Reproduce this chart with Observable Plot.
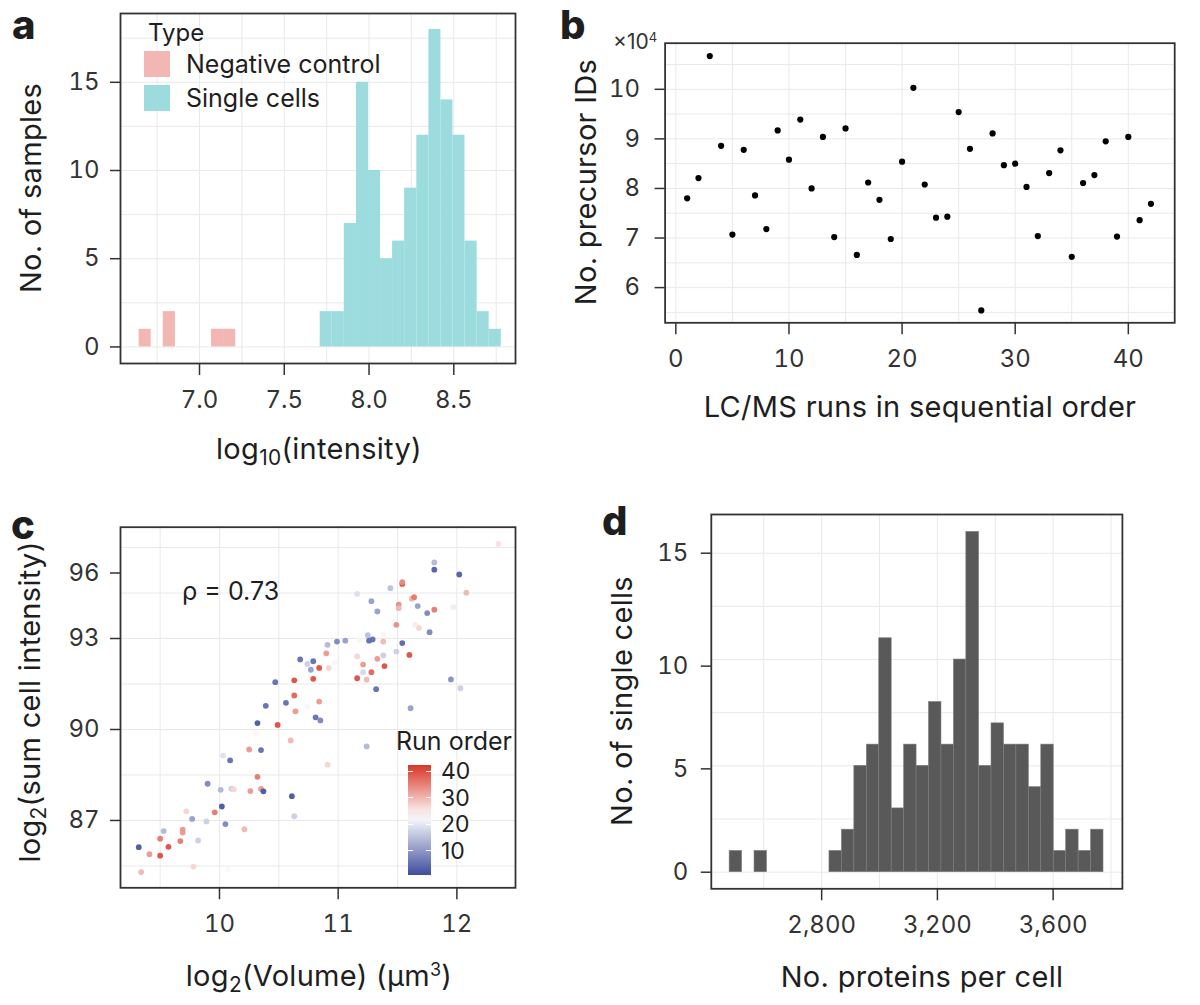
<!DOCTYPE html>
<html><head><meta charset="utf-8">
<script src="https://cdn.jsdelivr.net/npm/d3@7"></script>
<script src="https://cdn.jsdelivr.net/npm/@observablehq/plot@0.6"></script>
<style>
body{margin:0;background:#fff;font-family:Inter,"Noto Sans",sans-serif;color:#1e1e1e}
#fig{position:relative;width:1200px;height:1005px;overflow:hidden;background:#fff}
.abs{position:absolute;white-space:nowrap;line-height:1.15}
.letter{font-size:40px;font-weight:800;font-family:Inter,"Noto Sans",sans-serif;line-height:1}
.ttl{font-size:29px;letter-spacing:0.3px}
.ctr{transform:translate(-50%,-50%)}
.rot{transform:translate(-50%,-50%) rotate(-90deg)}
sub{font-size:0.72em;vertical-align:-0.28em;line-height:0}
sup{font-size:0.62em;vertical-align:0.55em;line-height:0}
</style></head><body><div id="fig"></div>
<script>
// ---------- Panel a: histogram of log10(intensity) ----------
const aTypes = ["Negative control", "Single cells"];
const aColors = ["#F2B6B3", "#9CDCDF"];
const aEdges = [6.644, 6.715, 6.786, 6.858, 6.929, 7.000, 7.071, 7.142, 7.214, 7.285,
  7.356, 7.427, 7.498, 7.570, 7.641, 7.712, 7.783, 7.854, 7.926, 7.997,
  8.068, 8.139, 8.210, 8.282, 8.353, 8.424, 8.495, 8.566, 8.638, 8.709, 8.780];
const aNegCounts = [1,0,2,0,0,0,1,1,0,0,0,0,0,0,0,0,0,0,0,0,0,0,0,0,0,0,0,0,0,0];
const aSingleCounts = [0,0,0,0,0,0,0,0,0,0,0,0,0,0,0,2,2,7,15,10,5,6,9,12,18,14,12,6,2,1];
const aXTicks = [7.0, 7.5, 8.0, 8.5];
const aYTicks = [0, 5, 10, 15];
const aXGrid = [6.75, 7.0, 7.25, 7.5, 7.75, 8.0, 8.25, 8.5, 8.75];
const aYGrid = [0, 2.5, 5, 7.5, 10, 12.5, 15, 17.5];

// ---------- Panel b: precursor IDs per run ----------
const bRun = [1,2,3,4,5,6,7,8,9,10,11,12,13,14,15,16,17,18,19,20,21,22,23,24,25,26,27,28,29,30,31,32,33,34,35,36,37,38,39,40,41,42];
const bPrecursor = [7.80, 8.21, 10.67, 8.86, 7.07, 8.78, 7.86, 7.18, 9.17, 8.58, 9.39, 8.00, 9.04, 7.02, 9.21, 6.66, 8.12, 7.77, 6.98, 8.54,
  10.03, 8.08, 7.41, 7.43, 9.54, 8.80, 5.54, 9.11, 8.47, 8.50, 8.03, 7.04, 8.31, 8.77, 6.62, 8.11, 8.27, 8.95, 7.03, 9.04, 7.36, 7.69]; // ×10^4
const bXTicks = [0, 10, 20, 30, 40];
const bYTicks = [6, 7, 8, 9, 10];
const bXGrid = [0, 5, 10, 15, 20, 25, 30, 35, 40];
const bYGrid = [5.5, 6, 6.5, 7, 7.5, 8, 8.5, 9, 9.5, 10, 10.5];

// ---------- Panel c: volume vs sum intensity ----------
const cVolume = [9.32, 9.34, 9.41, 9.50, 9.50, 9.53, 9.57, 9.67, 9.69, 9.69, 9.72, 9.77, 9.78, 9.82, 9.89, 9.90, 9.96, 10.01, 10.02, 10.03,
  10.05, 10.07, 10.09, 10.10, 10.12, 10.21, 10.25, 10.26, 10.32, 10.31, 10.32, 10.35, 10.35, 10.37, 10.39, 10.47, 10.49, 10.56, 10.60, 10.61,
  10.63, 10.63, 10.63, 10.64, 10.68, 10.74, 10.74, 10.77, 10.79, 10.79, 10.81, 10.84, 10.84, 10.85, 10.90, 10.91, 10.92, 10.91, 10.91, 10.97,
  10.99, 11.06, 11.16, 11.16, 11.16, 11.18, 11.21, 11.21, 11.24, 11.24, 11.25, 11.26, 11.28, 11.28, 11.29, 11.32, 11.33, 11.33, 11.38, 11.38,
  11.38, 11.39, 11.44, 11.49, 11.49, 11.51, 11.51, 11.60, 11.54, 11.54, 11.54, 11.60, 11.61, 11.62, 11.64, 11.65, 11.68, 11.67, 11.75, 11.77,
  11.81, 11.81, 11.81, 11.95, 11.97, 12.02, 12.03, 12.08, 12.35];
const cIntensity = [86.12, 85.30, 85.89, 85.84, 86.40, 86.65, 86.13, 86.32, 86.70, 86.60, 87.30, 87.05, 85.48, 86.34, 86.97, 88.21, 87.27, 88.01, 87.46, 89.14,
  86.88, 85.38, 88.98, 88.05, 88.03, 86.71, 89.34, 87.97, 88.44, 89.88, 90.21, 89.32, 88.04, 87.96, 90.78, 91.56, 90.15, 90.88, 89.64, 87.80,
  87.14, 91.62, 91.12, 90.60, 92.31, 92.16, 90.76, 91.97, 92.25, 91.67, 90.40, 90.92, 92.03, 90.30, 92.51, 92.79, 92.03, 88.84, 90.65, 92.22,
  92.90, 92.93, 94.47, 91.69, 92.41, 92.96, 91.89, 92.14, 89.44, 91.64, 93.11, 92.93, 94.23, 91.89, 92.97, 91.33, 92.33, 93.89, 92.44, 92.90,
  93.13, 92.09, 94.66, 92.57, 93.45, 94.12, 94.00, 94.97, 94.80, 94.86, 92.85, 92.46, 90.70, 94.31, 94.36, 93.45, 93.35, 94.07, 93.84, 93.21,
  95.51, 95.27, 93.95, 91.65, 94.03, 95.11, 91.36, 94.51, 96.12];
const cRunOrder = [2, 30, 33, 40, 36, 14, 40, 36, 33, 33, 27, 11, 27, 17, 17, 8, 36, 14, 2, 19,
  8, 24, 5, 17, 27, 30, 33, 33, 36, 24, 2, 5, 33, 2, 5, 5, 40, 5, 30, 2,
  17, 40, 38, 33, 5, 17, 22, 11, 5, 40, 5, 33, 40, 8, 33, 14, 27, 27, 23, 22,
  8, 11, 19, 40, 27, 22, 18, 33, 14, 30, 15, 5, 11, 38, 5, 5, 33, 11, 17, 30,
  22, 40, 15, 17, 34, 34, 30, 23, 40, 34, 4, 40, 11, 30, 36, 25, 27, 11, 8, 8,
  14, 3, 36, 9, 21, 3, 17, 30, 26];
const cXTicks = [10, 11, 12];
const cYTicks = [87, 90, 93, 95.16];
const cYTickLabels = ["87", "90", "93", "96"];
const cXGrid = [9.5, 10, 10.5, 11, 11.5, 12];
const cYGrid = [85.5, 87, 88.5, 90, 91.5, 93, 94.5, 96];
const cColorDomain = [1, 23, 42];
const cColorRange = ["#3F4E9E", "#FFFFFF", "#D9392A"];
const cLegendTicks = [10, 20, 30, 40];
const cRho = "ρ = 0.73";

// ---------- Panel d: proteins per cell ----------
const dEdges = [2482, 2525, 2568, 2611, 2654, 2698, 2741, 2784, 2827, 2870, 2913, 2956, 2999, 3042, 3085, 3128,
  3171, 3214, 3257, 3300, 3344, 3387, 3430, 3473, 3516, 3559, 3602, 3645, 3688, 3731, 3774];
const dCounts = [1,0,1,0,0,0,0,0,1,2,5,6,11,3,6,5,8,6,10,16,5,7,6,6,4,6,1,2,1,2];
const dXTicks = [2800, 3200, 3600];
const dYTicks = [0, 4.86, 9.69, 15];
const dYTickLabels = ["0", "5", "10", "15"];
const dXGrid = [2600, 2800, 3000, 3200, 3400, 3600, 3800];
const dYGrid = [0, 2.5, 5, 7.5, 10, 12.5, 15];

// ---------- helpers ----------
const fig = document.getElementById("fig");
const FONT = "Inter, 'Noto Sans', sans-serif";
const GRID = "#e9e9e9";
const AX = "#333333";
function place(el, left, top) {
  el.style.position = "absolute"; el.style.left = left + "px"; el.style.top = top + "px";
  fig.appendChild(el);
}
function text(html, x, y, cls, extra) {
  const d = document.createElement("div");
  d.className = "abs " + (cls || "");
  d.innerHTML = html;
  d.style.left = x + "px"; d.style.top = y + "px";
  if (extra) Object.assign(d.style, extra);
  fig.appendChild(d);
  return d;
}
const common = {style: {fontFamily: FONT, fontSize: "24px", color: AX, background: "transparent", overflow: "visible"}};
const frame = () => Plot.frame({stroke: AX, strokeWidth: 1.8});
const axisOpts = {label: null, color: AX, strokeWidth: 1.5, fontSize: 24};

// ---------- Panel a ----------
const aRows = [];
aEdges.slice(0, -1).forEach((e, k) => {
  if (aNegCounts[k] > 0) aRows.push({x1: e, x2: aEdges[k + 1], n: aNegCounts[k], type: aTypes[0]});
  if (aSingleCounts[k] > 0) aRows.push({x1: e, x2: aEdges[k + 1], n: aSingleCounts[k], type: aTypes[1]});
});
const pa = Plot.plot({
  ...common, width: 540, height: 420,
  marginLeft: 120, marginRight: 25, marginTop: 13, marginBottom: 57,
  x: {domain: [6.534, 8.864]},
  y: {domain: [-0.94, 18.9]},
  color: {domain: aTypes, range: aColors},
  marks: [
    Plot.gridX(aXGrid, {stroke: GRID, strokeOpacity: 1, strokeWidth: 1}),
    Plot.gridY(aYGrid, {stroke: GRID, strokeOpacity: 1, strokeWidth: 1}),
    Plot.rectY(aRows, {x1: "x1", x2: "x2", y: "n", fill: "type", inset: 0}),
    Plot.axisX(aXTicks, {...axisOpts, tickSize: 12, tickPadding: 15, tickFormat: d => d.toFixed(1)}),
    Plot.axisY(aYTicks, {...axisOpts, tickSize: 10, tickPadding: 11, tickFormat: d => String(d)}),
    frame()
  ]
});
place(pa, 0, 0);

// ---------- Panel b ----------
const bRows = bRun.map((r, i) => ({run: r, ids: bPrecursor[i]}));
const pb = Plot.plot({
  ...common, width: 600, height: 420,
  marginLeft: 64.6, marginRight: 25.8, marginTop: 42.7, marginBottom: 97.7,
  x: {domain: [-0.95, 44.1]},
  y: {domain: [5.29, 10.93]},
  marks: [
    Plot.gridX(bXGrid, {stroke: GRID, strokeOpacity: 1, strokeWidth: 1}),
    Plot.gridY(bYGrid, {stroke: GRID, strokeOpacity: 1, strokeWidth: 1}),
    Plot.dot(bRows, {x: "run", y: "ids", r: 3.1, fill: "#000", stroke: "none"}),
    Plot.axisX(bXTicks, {...axisOpts, tickSize: 12, tickPadding: 15, tickFormat: d => String(d)}),
    Plot.axisY(bYTicks, {...axisOpts, tickSize: 10, tickPadding: 15, tickFormat: d => String(d)}),
    frame()
  ]
});
place(pb, 600, 0);

// ---------- Panel c ----------
const cRows = cVolume.map((v, i) => ({vol: v, int: cIntensity[i], run: cRunOrder[i]}));
const cLabelMap = new Map(cYTicks.map((t, i) => [t, cYTickLabels[i]]));
const pc = Plot.plot({
  ...common, width: 540, height: 505,
  marginLeft: 120, marginRight: 25, marginTop: 26.7, marginBottom: 117.7,
  x: {domain: [9.166, 12.494]},
  y: {domain: [84.78, 96.67]},
  color: {type: "linear", domain: cColorDomain, range: cColorRange},
  marks: [
    Plot.gridX(cXGrid, {stroke: GRID, strokeOpacity: 1, strokeWidth: 1}),
    Plot.gridY(cYGrid, {stroke: GRID, strokeOpacity: 1, strokeWidth: 1}),
    Plot.dot(cRows, {x: "vol", y: "int", r: 2.9, fill: "run", stroke: "none", fillOpacity: 0.95}),
    Plot.axisX(cXTicks, {...axisOpts, tickSize: 12, tickPadding: 15, tickFormat: d => String(d)}),
    Plot.axisY(cYTicks, {...axisOpts, tickSize: 10, tickPadding: 11, tickFormat: d => cLabelMap.get(d)}),
    frame()
  ]
});
place(pc, 0, 500);

// ---------- Panel d ----------
const dRows = dCounts.map((n, k) => ({x1: dEdges[k], x2: dEdges[k + 1], n}));
const dLabelMap = new Map(dYTicks.map((t, i) => [t, dYTickLabels[i]]));
const pd = Plot.plot({
  ...common, width: 600, height: 505,
  marginLeft: 110.8, marginRight: 78.1, marginTop: 14, marginBottom: 116.7,
  x: {domain: [2418.6, 3839.3]},
  y: {domain: [-0.78, 16.82]},
  marks: [
    Plot.gridX(dXGrid, {stroke: GRID, strokeOpacity: 1, strokeWidth: 1}),
    Plot.gridY(dYGrid, {stroke: GRID, strokeOpacity: 1, strokeWidth: 1}),
    Plot.rectY(dRows, {x1: "x1", x2: "x2", y: "n", fill: "#595959", stroke: "#7d7d7d", strokeWidth: 0.6, inset: 0}),
    Plot.axisX(dXTicks, {...axisOpts, tickSize: 12, tickPadding: 15, tickFormat: d3.format(",")}),
    Plot.axisY(dYTicks, {...axisOpts, tickSize: 10, tickPadding: 13, tickFormat: d => dLabelMap.get(d)}),
    frame()
  ]
});
place(pd, 600, 500);

// ---------- panel letters ----------
text("a", 12, 5, "letter");
text("b", 560, 5, "letter");
text("c", 11, 505, "letter");
text("d", 602, 501, "letter");

// ---------- axis titles ----------
text("No. of samples", 31, 188, "ttl rot");
text("log<sub>10</sub>(intensity)", 319, 449, "ttl ctr");
text("No. precursor IDs", 586, 182, "ttl rot");
text("LC/MS runs in sequential order", 920, 407, "ttl ctr");
text("×10<sup>4</sup>", 613, 30, "", {fontSize: "21px", color: AX});
text("log<sub>2</sub>(sum cell intensity)", 30, 702, "ttl rot");
text("log<sub>2</sub>(Volume) (µm<sup>3</sup>)", 319, 976, "ttl ctr");
text("No. of single cells", 622, 701, "ttl rot");
text("No. proteins per cell", 922, 977, "ttl ctr");

// ---------- legend a ----------
text("Type", 148, 19, "", {fontSize: "24px"});
aTypes.forEach((t, i) => {
  const sw = document.createElement("div");
  sw.style.cssText = `position:absolute;left:144px;top:${51 + i * 34}px;width:26px;height:26px;background:${aColors[i]}`;
  fig.appendChild(sw);
  text(t, 186, 64 + i * 34, "", {fontSize: "25px", transform: "translateY(-50%)"});
});

// ---------- panel c annotation + colour legend ----------
text(cRho, 182, 591, "", {fontSize: "25px", transform: "translateY(-50%)"});
text("Run order", 396, 729, "", {fontSize: "25px", lineHeight: "1"});
const barTop = 765, barH = 110, barLeft = 408, barW = 23;
const ly = d3.scaleLinear().domain([0.9, 42.4]).range([barTop + barH, barTop]);
const lc = d3.scaleLinear().domain(cColorDomain).range(cColorRange);
const stops = d3.range(0, 11).map(i => {
  const v = 0.9 + i * (42.4 - 0.9) / 10;
  return `${lc(v)} ${(i * 10)}%`;
}).join(",");
const bar = document.createElement("div");
bar.style.cssText = `position:absolute;left:${barLeft}px;top:${barTop}px;width:${barW}px;height:${barH}px;background:linear-gradient(to top, ${stops})`;
fig.appendChild(bar);
cLegendTicks.forEach(t => {
  const y = ly(t);
  ["left", "right"].forEach(side => {
    const tk = document.createElement("div");
    tk.style.cssText = `position:absolute;top:${y - 0.5}px;width:5px;height:1px;background:#fff;${side === "left" ? `left:${barLeft}px` : `left:${barLeft + barW - 5}px`}`;
    fig.appendChild(tk);
  });
  text(String(t), 441, y, "", {fontSize: "23px", transform: "translateY(-50%)", lineHeight: "1"});
});
</script></body></html>
